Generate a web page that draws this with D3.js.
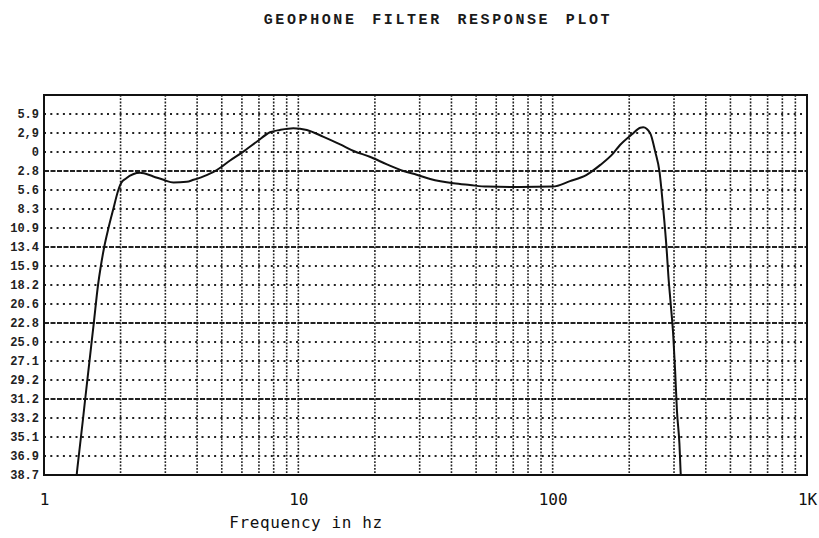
<!DOCTYPE html>
<html>
<head>
	<meta charset="utf-8">
	<title>Geophone Filter Response Plot</title>
	<script type="text/javascript" src="https://cdn.jsdelivr.net/npm/d3@7"></script>
	<style type="text/css">
		body { margin: 0; background: #fff; }
	</style>
</head>
<body>

<div id="chart"></div>

<script type="text/javascript">
// frequency axis
const freqTicks = [1, 10, 100, 1000];
const freqLabels = ["1", "10", "100", "1K"];
const gridFreqs = [2, 3, 4, 5, 6, 7, 8, 9, 10, 20, 30, 40, 50, 60, 70, 80, 90, 100,
    200, 300, 400, 500, 600, 700, 800, 900];

// gain axis (dB), one row per label, top to bottom
const gainTop = 8.9;
const gainTicks = [5.9, 2.9, 0, -2.8, -5.6, -8.3, -10.9, -13.4, -15.9, -18.2, -20.6,
    -22.8, -25.0, -27.1, -29.2, -31.2, -33.2, -35.1, -36.9, -38.7];
const gainLabels = ["5.9", "2,9", "0", "2.8", "5.6", "8.3", "10.9", "13.4", "15.9", "18.2",
    "20.6", "22.8", "25.0", "27.1", "29.2", "31.2", "33.2", "35.1", "36.9", "38.7"];
const majorGains = [-2.8, -13.4, -22.8, -31.2];

// response curve
const respFreq = [1.334, 1.347, 1.370, 1.422, 1.452, 1.511, 1.571, 1.631, 1.673, 1.725,
    1.793, 1.873, 1.96, 2.008, 2.101, 2.385, 2.69, 2.95, 3.23, 3.64,
    3.87, 4.36, 4.78, 5.39, 6.08, 6.86, 7.74, 8.47, 9.56, 10.8,
    12.5, 14.6, 16.5, 19.1, 22.3, 25.9, 29.2, 33.0, 40.7, 47.3,
    55.1, 74.4, 100, 117, 136, 154, 173, 184, 205, 221,
    227, 242, 253, 263, 272, 281, 285, 291, 298, 303,
    308, 315, 319, 321];
const respGain = [-39.6, -38.5, -36.9, -33.4, -31.2, -27.0, -22.7, -18.2, -15.9, -13.4,
    -10.9, -8.3, -5.6, -4.6, -3.9, -3.05, -3.6, -4.1, -4.5, -4.4,
    -4.1, -3.4, -2.66, -1.26, 0.06, 1.57, 3.02, 3.38, 3.65, 3.38,
    2.35, 1.16, 0.15, -0.7, -1.82, -2.8, -3.36, -3.98, -4.62, -4.87,
    -5.1, -5.15, -5.1, -4.3, -3.36, -1.9, -0.2, 1.07, 2.7, 3.74,
    3.8, 2.84, 0.06, -2.9, -8.2, -14.0, -17.05, -20.5, -24.3, -28.15,
    -32.4, -35.7, -38.7, -39.6];

const margin = {top: 95, right: 12, bottom: 63, left: 44},
    width = 819 - margin.left - margin.right,
    height = 538 - margin.top - margin.bottom,
    rowH = height / gainTicks.length;

const x = d3.scaleLog()
    .domain([freqTicks[0], freqTicks[freqTicks.length - 1]])
    .range([0, width]);

// rows are evenly spaced but the dB steps are not: piecewise linear scale
const y = d3.scaleLinear()
    .domain([gainTop].concat(gainTicks))
    .range(d3.range(gainTicks.length + 1).map(function(i) { return i * rowH; }));

const svg = d3.select("#chart").append("svg")
    .attr("width", 819)
    .attr("height", 538)
    .style("font-family", "'Liberation Mono', monospace");

svg.append("text")
    .attr("x", 438)
    .attr("y", 24)
    .attr("text-anchor", "middle")
    .style("font-size", "15px")
    .style("font-weight", "bold")
    .style("letter-spacing", "2.6px")
    .style("word-spacing", "4px")
    .style("fill", "#1a1a1a")
    .text("GEOPHONE FILTER RESPONSE PLOT");

const g = svg.append("g")
    .attr("transform", "translate(" + margin.left + "," + margin.top + ")");

// vertical dotted grid
g.selectAll(".vgrid").data(gridFreqs).enter()
    .append("line")
    .attr("class", "vgrid")
    .attr("x1", function(d) { return x(d); })
    .attr("x2", function(d) { return x(d); })
    .attr("y1", 0)
    .attr("y2", height)
    .style("stroke", "#222")
    .style("stroke-width", 1.6)
    .style("stroke-dasharray", "1.8,1.5");

// horizontal grid: dotted rows, dashed every fourth row
g.selectAll(".hgrid").data(gainTicks.slice(0, -1)).enter()
    .append("line")
    .attr("class", "hgrid")
    .attr("x1", 0)
    .attr("x2", width)
    .attr("y1", function(d) { return y(d); })
    .attr("y2", function(d) { return y(d); })
    .style("stroke", "#222")
    .style("stroke-width", 2)
    .style("stroke-dasharray", function(d) { return majorGains.indexOf(d) >= 0 ? "5,1.5" : "2,4.3"; });

// frame
g.append("rect")
    .attr("width", width)
    .attr("height", height)
    .style("fill", "none")
    .style("stroke", "#111")
    .style("stroke-width", 2);

// axes, labels only
const yAxis = g.append("g")
    .call(d3.axisLeft(y)
        .tickValues(gainTicks)
        .tickFormat(function(d, i) { return gainLabels[i]; })
        .tickSize(0)
        .tickPadding(5));
yAxis.select(".domain").remove();
yAxis.selectAll("text")
    .style("font-family", "'Liberation Mono', monospace")
    .style("font-size", "12px")
    .style("font-weight", "bold")
    .style("fill", "#222");

const xAxis = g.append("g")
    .attr("transform", "translate(0," + height + ")")
    .call(d3.axisBottom(x)
        .tickValues(freqTicks)
        .tickFormat(function(d, i) { return freqLabels[i]; })
        .tickSize(0)
        .tickPadding(19));
xAxis.select(".domain").remove();
xAxis.selectAll("text")
    .style("font-family", "'DejaVu Sans Mono', monospace")
    .style("font-size", "16px")
    .style("fill", "#111");

svg.append("text")
    .attr("x", 306)
    .attr("y", 528)
    .attr("text-anchor", "middle")
    .style("font-family", "'DejaVu Sans Mono', monospace")
    .style("font-size", "16px")
    .style("letter-spacing", "0.6px")
    .style("fill", "#111")
    .text("Frequency in hz");

// response curve
svg.append("clipPath")
    .attr("id", "plot-clip")
    .append("rect")
    .attr("width", width)
    .attr("height", height);

const data = respFreq.map(function(f, i) { return {freq: f, gain: respGain[i]}; });

const line = d3.line()
    .x(function(d) { return x(d.freq); })
    .y(function(d) { return y(d.gain); })
    .curve(d3.curveMonotoneX);

g.append("path")
    .datum(data)
    .attr("clip-path", "url(#plot-clip)")
    .style("fill", "none")
    .style("stroke", "#111")
    .style("stroke-width", 2)
    .attr("d", line);
</script>

</body>
</html>
